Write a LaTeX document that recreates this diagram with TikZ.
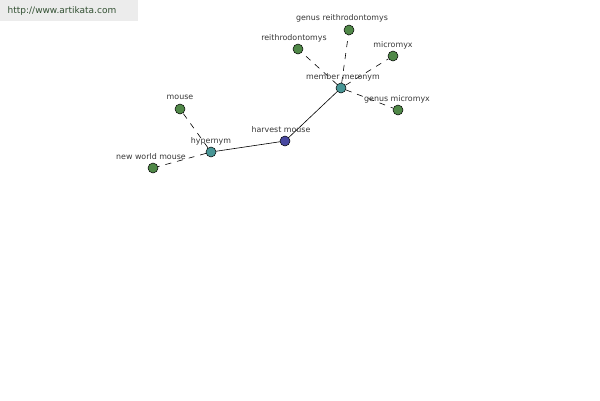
\documentclass[tikz,border=0pt]{standalone}
\usepackage{fontspec}
\setmainfont{DejaVu Sans}
\definecolor{leafgreen}{RGB}{80,136,72}
\definecolor{relteal}{RGB}{72,150,150}
\definecolor{rootblue}{RGB}{72,72,160}
\definecolor{labelgray}{RGB}{55,55,55}
\definecolor{wmbg}{RGB}{236,236,236}
\definecolor{wmtext}{RGB}{50,80,50}
\tikzset{
  dot/.style={circle,draw=black,line width=0.5pt,inner sep=0pt,minimum size=10pt},
  leaf/.style={dot,fill=leafgreen},
  rel/.style={dot,fill=relteal},
  root/.style={dot,fill=rootblue},
  lbl/.style={font=\fontsize{7.9}{9}\selectfont,text=labelgray,inner sep=0pt},
  solidedge/.style={draw=black,line width=0.6pt},
  dashedge/.style={draw=black,line width=0.6pt,dash pattern=on 6pt off 6pt}
}
\begin{document}
\begin{tikzpicture}[x=1pt,y=-1pt]
\useasboundingbox (0,0) rectangle (600,400);
\fill[white] (0,0) rectangle (600,400);
\fill[wmbg] (0,0) rectangle (138,21);
\node[font=\fontsize{9}{10}\selectfont,text=wmtext,inner sep=0pt] (wm) at (62,11) {http://www.artikata.com};
% nodes
\node[root] (harvest) at (285,141) {};
\node[rel] (hyper) at (211,152) {};
\node[rel] (mero) at (341,88) {};
\node[leaf] (mouse) at (180,109) {};
\node[leaf] (nwm) at (153,168) {};
\node[leaf] (greith) at (349,30) {};
\node[leaf] (reith) at (298,49) {};
\node[leaf] (micro) at (393,56) {};
\node[leaf] (gmicro) at (398,110) {};
% edges
\draw[solidedge] (harvest) -- (hyper);
\draw[solidedge] (harvest) -- (mero);
\draw[dashedge] (hyper) -- (mouse);
\draw[dashedge] (hyper) -- (nwm);
\draw[dashedge] (mero) -- (greith);
\draw[dashedge] (mero) -- (reith);
\draw[dashedge] (mero) -- (micro);
\draw[dashedge] (mero) -- (gmicro);
% labels
\node[lbl] (lharvest) at (281,130) {harvest mouse};
\node[lbl] (lhyper) at (211,141) {hypernym};
\node[lbl] (lmero) at (343,77) {member meronym};
\node[lbl] (lmouse) at (180,97) {mouse};
\node[lbl] (lnwm) at (151,157) {new world mouse};
\node[lbl] (lgreith) at (342,18) {genus reithrodontomys};
\node[lbl] (lreith) at (294,38) {reithrodontomys};
\node[lbl] (lmicro) at (393,45) {micromyx};
\node[lbl] (lgmicro) at (397,99) {genus micromyx};
\end{tikzpicture}
\end{document}
